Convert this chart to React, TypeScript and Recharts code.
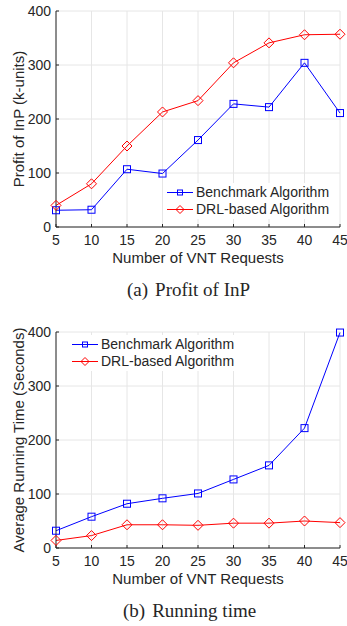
import React from "react";
import {
  LineChart,
  Line,
  CartesianGrid,
  XAxis,
  YAxis,
  Legend,
} from "recharts";

const requests = [5, 10, 15, 20, 25, 30, 35, 40, 45];
const yTicks = [0, 100, 200, 300, 400];

const profitBenchmark = [31, 32, 107, 99, 161, 228, 222, 304, 211];
const profitDrl = [40, 80, 150, 213, 234, 304, 341, 356, 357];

const timeBenchmark = [32, 58, 82, 92, 101, 127, 153, 222, 399];
const timeDrl = [14, 23, 43, 43, 42, 46, 46, 50, 47];

const seriesNames = ["Benchmark Algorithm", "DRL-based Algorithm"];

const BLUE = "#0000ff";
const RED = "#ff0000";
const INK = "#262626";

const renderSquare = (props: any) => {
  const { cx, cy, index } = props;
  if (cx == null || cy == null) return <g key={`s-${index}`} />;
  return (
    <rect
      key={`s-${index}`}
      x={cx - 3.5}
      y={cy - 3.5}
      width={7}
      height={7}
      fill="none"
      stroke={BLUE}
      strokeWidth={1}
    />
  );
};

const renderDiamond = (props: any) => {
  const { cx, cy, index } = props;
  if (cx == null || cy == null) return <g key={`d-${index}`} />;
  return (
    <path
      key={`d-${index}`}
      d={`M${cx},${cy - 5}L${cx + 5},${cy}L${cx},${cy + 5}L${cx - 5},${cy}Z`}
      fill="none"
      stroke={RED}
      strokeWidth={1}
    />
  );
};

function LegendBox() {
  const row = (i: number) => (
    <div
      key={i}
      style={{ display: "flex", alignItems: "center", height: 17 }}
    >
      <svg width={26} height={17} style={{ display: "block" }}>
        <line
          x1={0}
          x2={26}
          y1={8.5}
          y2={8.5}
          stroke={i === 0 ? BLUE : RED}
          strokeWidth={1}
        />
        {i === 0 ? (
          <rect
            x={10.5}
            y={6}
            width={5}
            height={5}
            fill="none"
            stroke={BLUE}
          />
        ) : (
          <path
            d="M13,4.5L17,8.5L13,12.5L9,8.5Z"
            fill="none"
            stroke={RED}
          />
        )}
      </svg>
      <span
        style={{
          marginLeft: 3,
          fontSize: 14,
          color: INK,
          whiteSpace: "nowrap",
          lineHeight: "17px",
        }}
      >
        {seriesNames[i]}
      </span>
    </div>
  );
  return (
    <div style={{ paddingLeft: 4, paddingTop: 1 }}>
      {row(0)}
      {row(1)}
    </div>
  );
}

type PanelProps = {
  benchmark: number[];
  drl: number[];
  yLabel: string;
  tag: string;
  caption: string;
  captionLeft: number;
  legendLeft: number;
  legendTop: number;
  top: number;
};

function Panel({
  benchmark,
  drl,
  yLabel,
  tag,
  caption,
  captionLeft,
  legendLeft,
  legendTop,
  top,
}: PanelProps) {
  const data = requests.map((x, i) => ({
    x,
    benchmark: benchmark[i],
    drl: drl[i],
  }));

  return (
    <div style={{ position: "absolute", left: 0, top, width: 347 }}>
      <LineChart
        width={347}
        height={270}
        data={data}
        margin={{ top: 11, right: 7, bottom: 3, left: 0 }}
      >
        <CartesianGrid stroke="#e6e6e6" strokeWidth={1} />
        <XAxis
          dataKey="x"
          type="number"
          domain={[5, 45]}
          ticks={requests}
          interval={0}
          height={40}
          tickSize={-3}
          tickMargin={11}
          axisLine={{ stroke: INK }}
          tickLine={{ stroke: INK }}
          tick={{ fontSize: 14, fill: INK }}
          label={{
            value: "Number of VNT Requests",
            position: "insideBottom",
            offset: 4,
            style: { fontSize: 15, fill: INK },
          }}
        />
        <XAxis
          xAxisId="top"
          orientation="top"
          dataKey="x"
          type="number"
          domain={[5, 45]}
          ticks={requests}
          interval={0}
          height={0}
          tickSize={-3}
          tick={false}
          axisLine={{ stroke: INK }}
          tickLine={{ stroke: INK }}
        />
        <YAxis
          type="number"
          domain={[0, 400]}
          ticks={yTicks}
          interval={0}
          width={56}
          tickSize={-3}
          tickMargin={8}
          axisLine={{ stroke: INK }}
          tickLine={{ stroke: INK }}
          tick={{ fontSize: 14, fill: INK }}
          label={{
            value: yLabel,
            angle: -90,
            position: "insideLeft",
            offset: 19,
            style: { textAnchor: "middle", fontSize: 15, fill: INK },
          }}
        />
        <YAxis
          yAxisId="right"
          orientation="right"
          type="number"
          domain={[0, 400]}
          ticks={yTicks}
          interval={0}
          width={0}
          tickSize={-3}
          tick={false}
          axisLine={{ stroke: INK }}
          tickLine={{ stroke: INK }}
        />
        <Legend
          layout="vertical"
          align="center"
          verticalAlign="middle"
          content={() => <LegendBox />}
          wrapperStyle={{
            left: legendLeft,
            top: legendTop,
            width: 176,
            height: 36,
            background: "#fff",
          }}
        />
        <Line
          type="linear"
          dataKey="benchmark"
          name={seriesNames[0]}
          stroke={BLUE}
          strokeWidth={1}
          dot={renderSquare}
          activeDot={false}
          isAnimationActive={false}
        />
        <Line
          type="linear"
          dataKey="drl"
          name={seriesNames[1]}
          stroke={RED}
          strokeWidth={1}
          dot={renderDiamond}
          activeDot={false}
          isAnimationActive={false}
        />
      </LineChart>
      <div
        style={{
          marginTop: 9,
          height: 22,
          lineHeight: "22px",
          paddingLeft: captionLeft,
          fontFamily: "'Liberation Serif', 'Times New Roman', serif",
          fontSize: 19,
          color: INK,
          whiteSpace: "nowrap",
        }}
      >
        <span>{tag}</span>
        <span style={{ marginLeft: 7 }}>{caption}</span>
      </div>
    </div>
  );
}

export default function App() {
  return (
    <div
      style={{
        position: "absolute",
        left: 0,
        top: 0,
        width: 347,
        height: 626,
        background: "#fff",
        overflow: "hidden",
        fontFamily: "'Liberation Sans', Arial, sans-serif",
      }}
    >
      <Panel
        benchmark={profitBenchmark}
        drl={profitDrl}
        yLabel="Profit of InP (k-units)"
        tag="(a)"
        caption="Profit of InP"
        captionLeft={127}
        legendLeft={163}
        legendTop={183}
        top={0}
      />
      <Panel
        benchmark={timeBenchmark}
        drl={timeDrl}
        yLabel="Average Running Time (Seconds)"
        tag="(b)"
        caption="Running time"
        captionLeft={123}
        legendLeft={68}
        legendTop={14}
        top={321}
      />
    </div>
  );
}
